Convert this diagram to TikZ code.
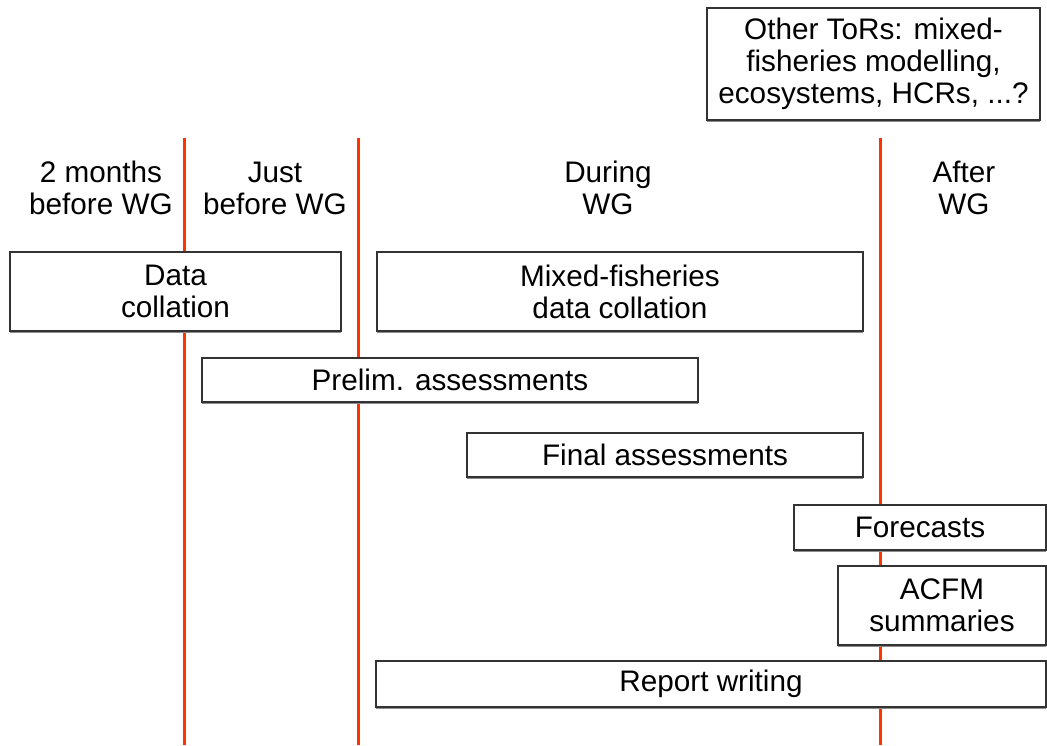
\documentclass[tikz,border=0pt]{standalone}
\usepackage{fontspec}
\setmainfont{Liberation Sans}
\usetikzlibrary{shadows}
\definecolor{vred}{HTML}{FF3300}
\definecolor{edge}{HTML}{333333}
\begin{document}
\begin{tikzpicture}[x=1pt,y=-1pt,
  box/.style={draw=edge, fill=white, line width=1.1pt, align=center, inner sep=0pt,
    font=\fontsize{29.7}{32}\selectfont,
    drop shadow={shadow xshift=0pt, shadow yshift=-1.6pt, fill=black!45, opacity=1}},
  lbl/.style={align=center, inner sep=0pt, font=\fontsize{29.7}{32}\selectfont},
  divider/.style={vred, line width=3pt}]
\useasboundingbox (0,0) rectangle (1047,745);
% dividers
\coordinate (t1) at (184,138); \coordinate (b1) at (184,745);
\coordinate (t2) at (358,138); \coordinate (b2) at (358,745);
\coordinate (t3) at (880,138); \coordinate (b3) at (880,745);
\draw[divider] (t1) -- (b1);
\draw[divider] (t2) -- (b2);
\draw[divider] (t3) -- (b3);
% headers
\node[lbl] (h1) at (101,188) {2 months\\before WG};
\node[lbl] (h2) at (275,188) {Just\\before WG};
\node[lbl] (h3) at (608,188) {During\\WG};
\node[lbl] (h4) at (964,188) {After\\WG};
% boxes
\node[box, minimum width=333pt, minimum height=112pt] (tor) at (873.5,64) {Other ToRs: mixed-\\fisheries modelling,\\ecosystems, HCRs, ...?};
\node[box, minimum width=331pt, minimum height=79pt] (dc) at (175.5,291.5) {Data\\collation};
\node[box, minimum width=486pt, minimum height=79pt] (mf) at (620,291.5) {Mixed-fisheries\\data collation};
\node[box, minimum width=496pt, minimum height=44pt] (pa) at (450,380) {Prelim. assessments};
\node[box, minimum width=396pt, minimum height=44pt] (fa) at (665,455) {Final assessments};
\node[box, minimum width=252pt, minimum height=45pt] (fc) at (920,527.5) {Forecasts};
\node[box, minimum width=208pt, minimum height=79pt] (ac) at (942,605.5) {ACFM\\summaries};
\node[box, minimum width=670pt, minimum height=46pt] (rw) at (711,684) {Report writing};
\end{tikzpicture}
\end{document}
